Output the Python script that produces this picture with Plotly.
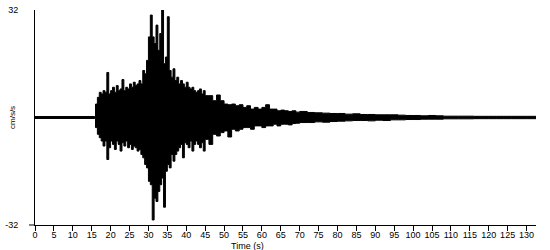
import plotly.graph_objects as go

# Seismogram envelope (time in s, acceleration in cm/s/s)
time_s = [0, 15.8,
          16.0, 16.5, 17.0, 17.5, 18.0, 18.5, 19.0, 19.5, 20.0, 20.5,
          21.0, 21.5, 22.0, 22.5, 23.0, 23.5, 24.0, 24.5, 25.0, 25.5,
          26.0, 26.5, 27.0, 27.5, 28.0, 28.5, 29.0, 29.5, 30.0, 30.5,
          31.0, 31.5, 32.0, 32.5, 33.0, 33.5, 34.0, 34.5, 35.0, 35.5,
          36.0, 36.5, 37.0, 37.5, 38.0, 38.5, 39.0, 39.5, 40.0, 40.5,
          41.0, 41.5, 42.0, 42.5, 43.0, 43.5, 44.0, 44.5, 45.0,
          46, 47, 48, 49, 50, 51, 52, 53, 54, 55, 56, 57, 58, 59, 60,
          61, 62, 63, 64, 65, 66, 67, 68, 69, 70,
          72, 74, 76, 78, 80, 82, 84, 86, 88, 90, 92, 94, 96, 98, 100,
          102, 104, 106, 108, 110, 112, 114, 116, 118, 120, 122, 124,
          126, 128, 130, 132, 132.5]

upper = [0.3, 0.3,
         4, 6, 7.5, 7, 8, 7.5, 13.4, 7, 8, 9,
         7.5, 9.5, 8, 8.5, 11.3, 8, 9, 8.5, 10, 9,
         10.5, 9.5, 10, 11, 10, 14, 13, 17, 24, 30.5,
         24, 22, 27.5, 20, 25, 32, 16, 18, 30, 14,
         12, 14.5, 11, 12, 10, 11, 10, 9, 10.5, 9,
         8.5, 9, 8, 7.5, 8, 8.5, 7, 8, 6.5,
         6.5, 5, 6.7, 5, 4, 3.8, 4, 3.5, 3.8, 3, 3.5, 2.5, 3, 2.5, 3,
         3.8, 2.5, 2.5, 2, 2.2, 2, 1.8, 2, 1.6, 1.8,
         1.5, 1.4, 1.3, 1.2, 1.2, 1.0, 1.1, 0.9, 0.9, 0.8, 0.8, 0.8, 0.7, 0.6, 0.6,
         0.5, 0.6, 0.5, 0.4, 0.4, 0.4, 0.4, 0.35, 0.35, 0.35, 0.35, 0.35,
         0.35, 0.35, 0.35, 0.35, 0.35]

lower = [-0.3, -0.3,
         -3, -5, -6, -7, -8.5, -7, -12.5, -9, -7, -8,
         -9.5, -7, -8, -10, -7.5, -8.5, -7, -9, -8, -9.5,
         -8.5, -9, -10, -9.5, -11, -12, -14, -15, -19, -20,
         -30.5, -24, -25, -22, -20, -18, -26.7, -16, -14, -15,
         -11, -13, -11, -10, -9, -8, -12, -7.5, -8, -9,
         -7, -10, -8, -7, -8, -9, -7.5, -10, -6.5,
         -8, -5, -5.5, -4.5, -4, -5.8, -3.5, -4, -3.5, -3, -3, -3.5, -2.5, -2.5, -3,
         -2.5, -2.5, -2, -2.5, -2, -2, -2.2, -1.8, -1.7, -1.5,
         -1.5, -1.3, -1.4, -1.2, -1.1, -1.0, -0.9, -0.9, -1.0, -0.8, -0.9, -0.7, -0.7, -0.6, -0.6,
         -0.5, -0.5, -0.5, -0.4, -0.4, -0.4, -0.4, -0.35, -0.35, -0.35, -0.35, -0.35,
         -0.35, -0.35, -0.35, -0.35, -0.35]

x_ticks = list(range(0, 131, 5))
y_ticks = [-32, 32]

FONT = "Liberation Sans Narrow, Arial Narrow, Liberation Sans, Arial, sans-serif"

fig = go.Figure()
fig.add_trace(go.Scatter(x=time_s, y=lower, mode="lines", line_shape="hv",
                         line=dict(color="black", width=1), showlegend=False,
                         hoverinfo="skip"))
fig.add_trace(go.Scatter(x=time_s, y=upper, mode="lines", line_shape="hv",
                         fill="tonexty", fillcolor="black",
                         line=dict(color="black", width=1), showlegend=False,
                         hoverinfo="skip"))

fig.update_layout(
    width=550, height=250,
    margin=dict(l=35, r=14, t=5, b=25),
    paper_bgcolor="white", plot_bgcolor="white",
    font=dict(family=FONT, size=9, color="black"),
    xaxis=dict(range=[0, 132.5], tickmode="array", tickvals=x_ticks,
               ticktext=[str(v) for v in x_ticks], tickangle=0,
               showline=True, linecolor="black", linewidth=1,
               ticks="outside", ticklen=5, tickwidth=1, tickcolor="black",
               showgrid=False, zeroline=False, fixedrange=True,
               ticklabelstandoff=-4,
               tickfont=dict(family=FONT, size=9)),
    yaxis=dict(range=[-32, 32], tickmode="array", tickvals=y_ticks,
               ticktext=[str(v) for v in y_ticks],
               showline=True, linecolor="black", linewidth=1,
               ticks="", showgrid=False, zeroline=False, fixedrange=True,
               ticklabelstandoff=14, tickfont=dict(family=FONT, size=9)),
    annotations=[
        dict(text="Time (s)", xref="paper", yref="paper",
             x=(247 - 35) / 501, y=-21 / 220, xanchor="center", yanchor="middle",
             showarrow=False, font=dict(family=FONT, size=9)),
        dict(text="cm/s/s", xref="paper", yref="paper",
             x=-22.5 / 501, y=0.5, xanchor="center", yanchor="middle",
             textangle=-90, showarrow=False, font=dict(family=FONT, size=8)),
    ],
    shapes=[dict(type="line", xref="paper", yref="paper",
                 x0=-6 / 501, x1=0, y0=0, y1=0,
                 line=dict(color="black", width=1))],
)

fig.write_html("out.html")
